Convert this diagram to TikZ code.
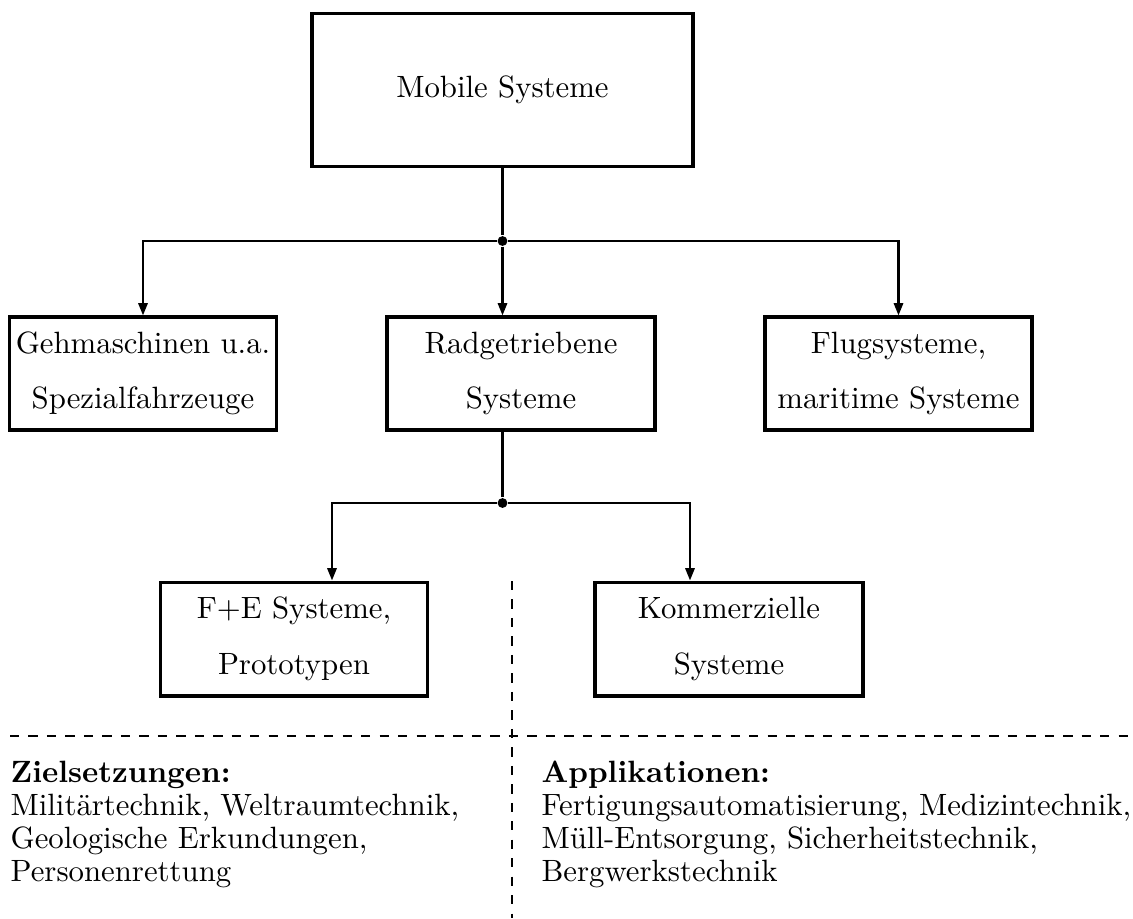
\documentclass[tikz,border=0pt]{standalone}
\usepackage{fontspec}
\usepackage{amsmath}
\usepackage{tikz}
\usetikzlibrary{positioning, calc, arrows.meta}

\begin{document}
\begin{tikzpicture}[x=0.3247pt, y=-0.3247pt,
    box/.style={draw, line width=1pt, inner sep=0pt, align=center, minimum height=36.7pt},
    conn/.style={line width=0.75pt},
    arr/.style={conn, -{Triangle[length=4pt, width=3pt]}},
    sep/.style={dashed, line width=0.7pt},
    dot/.style={circle, fill, inner sep=0pt, minimum size=3.2pt},
    txt/.style={anchor=north west, align=left, inner sep=0pt, font=\fontsize{10}{10.8}\selectfont}]
    \useasboundingbox (0,0) rectangle (1133,918);

    %top box
    \node[box, minimum width=123.7pt, minimum height=49.4pt] (mobil) at (502.5,90) {Mobile Systeme};
    \node[dot] (j1) at (502.5,241) {};

    %second row
    \node[box, minimum width=86.4pt] (geh) at (143,373.5) {Gehmaschinen u.a.\\[6pt]Spezialfahrzeuge};
    \node[box, minimum width=87pt] (rad) at (521,373.5) {Radgetriebene\\[6pt]Systeme};
    \node[box, minimum width=86.7pt] (flug) at (898.5,373.5) {Flugsysteme,\\[6pt]maritime Systeme};
    \draw[conn] (mobil.south -| j1) -- (j1);
    \draw[arr] (j1) -| (geh.north);
    \draw[arr] (j1) -- (rad.north -| j1);
    \draw[arr] (j1) -| (flug.north);

    %third row
    \node[dot] (j2) at (502.5,503) {};
    \node[box, minimum width=86.4pt, minimum height=37pt] (fe) at (294,639) {F+E Systeme,\\[6pt]Prototypen};
    \node[box, minimum width=87pt, minimum height=37pt] (kom) at (729,639) {Kommerzielle\\[6pt]Systeme};
    \coordinate (fein) at (332,0);
    \coordinate (komin) at (690,0);
    \draw[conn] (rad.south -| j2) -- (j2);
    \draw[arr] (j2) -| (fe.north -| fein);
    \draw[arr] (j2) -| (kom.north -| komin);

    %separators
    \coordinate (sepl) at (10,736);
    \coordinate (sepr) at (1133,736);
    \coordinate (sept) at (512,581);
    \coordinate (sepb) at (512,918);
    \draw[sep] (sepl) -- (sepr);
    \draw[sep] (sept) -- (sepb);

    %texts
    \node[txt] (ziel) at (10,760) {\textbf{Zielsetzungen:}\\Militärtechnik, Weltraumtechnik,\\Geologische Erkundungen,\\Personenrettung};
    \node[txt] (appl) at (541,760) {\textbf{Applikationen:}\\Fertigungsautomatisierung, Medizintechnik,\\Müll-Entsorgung, Sicherheitstechnik,\\Bergwerkstechnik};
\end{tikzpicture}
\end{document}
